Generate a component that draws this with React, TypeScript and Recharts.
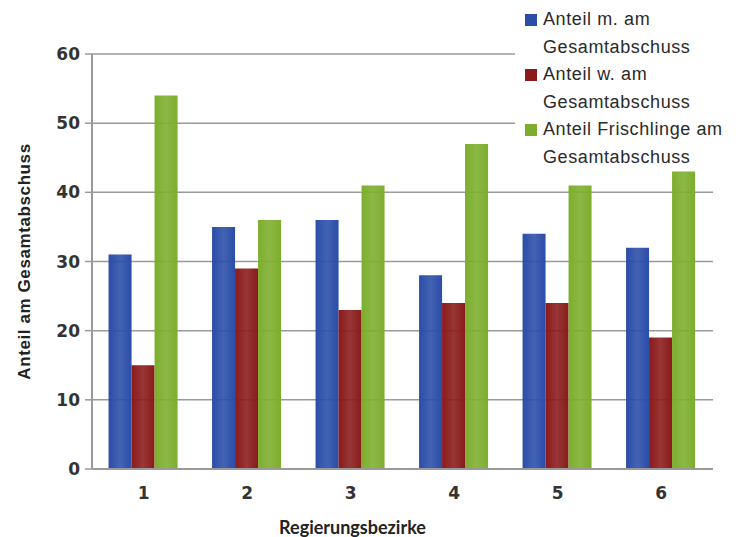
import React from 'react';
import { BarChart, Bar, XAxis, YAxis, CartesianGrid } from 'recharts';

const bezirke = ['1', '2', '3', '4', '5', '6'];
const anteilM = [31, 35, 36, 28, 34, 32];
const anteilW = [15, 29, 23, 24, 24, 19];
const anteilFrischlinge = [54, 36, 41, 47, 41, 43];
const yTicks = [0, 10, 20, 30, 40, 50, 60];

const seriesNames = [
  ['Anteil m. am', 'Gesamtabschuss'],
  ['Anteil w. am', 'Gesamtabschuss'],
  ['Anteil Frischlinge am', 'Gesamtabschuss'],
];
const seriesColors = ['#2a4da8', '#8a1a1a', '#7cae2c'];

const data = bezirke.map((b, i) => ({
  bezirk: b,
  m: anteilM[i],
  w: anteilW[i],
  f: anteilFrischlinge[i],
}));

// legend sits over the top-right corner of the plot, like in the original
const LegendBox = () => (
  <div
    style={{
      position: 'absolute',
      top: 0,
      left: 515,
      width: 238,
      height: 171,
      background: '#fff',
      overflow: 'hidden',
      whiteSpace: 'nowrap',
      fontFamily: 'Liberation Sans',
      fontSize: 18,
      color: '#2a2a2a',
      letterSpacing: '0.6px',
      paddingTop: 6,
      paddingLeft: 9,
      boxSizing: 'border-box',
    }}
  >
    {seriesNames.map((lines, i) => (
      <div key={i} style={{ position: 'relative', paddingLeft: 19 }}>
        <span
          style={{
            position: 'absolute',
            left: 1,
            top: 8,
            width: 12,
            height: 12,
            background: seriesColors[i],
          }}
        />
        {lines.map((l, j) => (
          <div key={j} style={{ height: 27.5, lineHeight: '27.5px' }}>
            {l}
          </div>
        ))}
      </div>
    ))}
  </div>
);

export default function App() {
  const tickStyle = { fontSize: 17, fontWeight: 700, fill: '#333', fontFamily: 'DejaVu Sans' };
  return (
    <div style={{ position: 'absolute', left: 0, top: 0, width: 753, height: 537, background: '#fff' }}>
      <BarChart
        width={753}
        height={537}
        data={data}
        margin={{ top: 54, right: 40, left: 20, bottom: 0 }}
        barCategoryGap="16%"
        barGap={0}
      >
        <defs>
          {seriesColors.map((c, i) => (
            <linearGradient key={i} id={`g${i}`} x1="0" y1="0" x2="1" y2="0">
              <stop offset="0%" stopColor={c} stopOpacity={1} />
              <stop offset="50%" stopColor={c} stopOpacity={0.88} />
              <stop offset="100%" stopColor={c} stopOpacity={1} />
            </linearGradient>
          ))}
        </defs>
        <CartesianGrid vertical={false} stroke="#9a9a9a" strokeWidth={1.5} />
        <XAxis
          dataKey="bezirk"
          height={68}
          tick={tickStyle}
          tickLine={false}
          tickSize={6}
          tickMargin={12}
          axisLine={{ stroke: '#9a9a9a', strokeWidth: 2 }}
          label={{
            value: 'Regierungsbezirke',
            position: 'insideBottom',
            dx: -50,
            offset: 3,
            style: { fontSize: 18, fontWeight: 700, fill: '#222', fontFamily: 'Lato' },
          }}
        />
        <YAxis
          domain={[0, 60]}
          ticks={yTicks}
          width={72}
          tick={tickStyle}
          tickLine={{ stroke: '#9a9a9a', strokeWidth: 1.5 }}
          tickSize={7}
          tickMargin={5}
          axisLine={{ stroke: '#9a9a9a', strokeWidth: 2 }}
          label={{
            value: 'Anteil am Gesamtabschuss',
            angle: -90,
            position: 'insideLeft',
            dx: -1,
            style: {
              fontSize: 17,
              fontWeight: 700,
              fill: '#222',
              fontFamily: 'Liberation Sans',
              textAnchor: 'middle',
              letterSpacing: '0.6px',
            },
          }}
        />
        <Bar dataKey="m" name="Anteil m. am Gesamtabschuss" fill="url(#g0)" isAnimationActive={false} />
        <Bar dataKey="w" name="Anteil w. am Gesamtabschuss" fill="url(#g1)" isAnimationActive={false} />
        <Bar dataKey="f" name="Anteil Frischlinge am Gesamtabschuss" fill="url(#g2)" isAnimationActive={false} />
      </BarChart>
      <LegendBox />
    </div>
  );
}
